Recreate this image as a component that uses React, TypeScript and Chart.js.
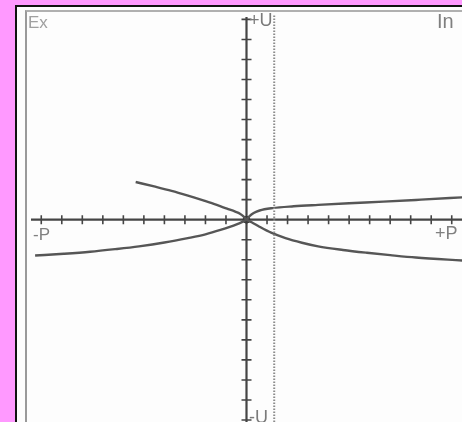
import React, { useEffect, useRef } from "react";
import { Chart, registerables } from "chart.js";

Chart.register(...registerables);

// Curve samples (P on x, U on y; one tick = 1 unit)
const upperLeftX = [-5.4, -4.5, -3.65, -2.85, -2.07, -1.45, -0.95, -0.55, -0.32, -0.12, 0];
const upperLeftY = [1.88, 1.66, 1.44, 1.2, 0.95, 0.74, 0.55, 0.4, 0.3, 0.14, 0];
const lowerLeftX = [-10.3, -8.9, -7.62, -6.4, -5.24, -4.0, -2.86, -2.0, -1.27, -0.48, -0.15, 0];
const lowerLeftY = [-1.79, -1.7, -1.6, -1.47, -1.33, -1.14, -0.92, -0.73, -0.51, -0.23, -0.08, 0];
const upperRightX = [0, 0.15, 0.35, 0.64, 1.27, 2.3, 3.49, 5.0, 6.67, 8.5, 10.6];
const upperRightY = [0, 0.18, 0.33, 0.46, 0.58, 0.67, 0.74, 0.82, 0.9, 1.0, 1.12];
const lowerRightX = [0, 0.25, 0.63, 1.2, 1.9, 2.7, 3.49, 4.7, 5.87, 7.0, 8.25, 10.6];
const lowerRightY = [0, -0.13, -0.35, -0.65, -0.92, -1.15, -1.33, -1.51, -1.65, -1.77, -1.89, -2.04];
const markerP = [1.35, 1.35];
const markerU = [-11, 11];
const originP = [0];
const originU = [0];

const xTickValues = [-10, -9, -8, -7, -6, -5, -4, -3, -2, -1, 1, 2, 3, 4, 5, 6, 7, 8, 9, 10];
const yTickValues = [-10, -9, -8, -7, -6, -5, -4, -3, -2, -1, 1, 2, 3, 4, 5, 6, 7, 8, 9, 10];

const labelEx = "Ex";
const labelIn = "In";
const labelPlusU = "+U";
const labelMinusU = "-U";
const labelPlusP = "+P";
const labelMinusP = "-P";

const pts = (xs: number[], ys: number[]) => xs.map((x, i) => ({ x, y: ys[i] }));

const crossAxes = {
  id: "crossAxes",
  beforeDatasetsDraw(chart: any) {
    const { ctx, chartArea } = chart;
    const xs = chart.scales.x;
    const ys = chart.scales.y;
    const x0 = xs.getPixelForValue(0);
    const y0 = ys.getPixelForValue(0);
    ctx.save();
    ctx.strokeStyle = "#454545";
    ctx.lineWidth = 2.2;
    ctx.beginPath();
    ctx.moveTo(chartArea.left, y0);
    ctx.lineTo(chartArea.right, y0);
    ctx.moveTo(x0, ys.getPixelForValue(10.12));
    ctx.lineTo(x0, chartArea.bottom);
    ctx.stroke();
    ctx.lineWidth = 1.6;
    ctx.beginPath();
    xTickValues.forEach((v) => {
      const p = xs.getPixelForValue(v);
      ctx.moveTo(p, y0 - 4.5);
      ctx.lineTo(p, y0 + 4.5);
    });
    yTickValues.forEach((v) => {
      const p = ys.getPixelForValue(v);
      ctx.moveTo(x0 - 5, p);
      ctx.lineTo(x0 + 5, p);
    });
    ctx.stroke();
    ctx.restore();
  },
};

export default function App() {
  const ref = useRef<HTMLCanvasElement | null>(null);

  useEffect(() => {
    if (!ref.current) return;
    const curve = (xs: number[], ys: number[]) => ({
      data: pts(xs, ys),
      borderColor: "#565656",
      borderWidth: 2.4,
      pointRadius: 0,
      showLine: true,
      fill: false,
      cubicInterpolationMode: "monotone" as const,
    });
    const chart = new Chart(ref.current, {
      type: "scatter",
      data: {
        datasets: [
          {
            data: pts(markerP, markerU),
            borderColor: "#8c8c8c",
            borderWidth: 2,
            borderDash: [1.5, 1.5],
            pointRadius: 0,
            showLine: true,
          },
          curve(upperLeftX, upperLeftY),
          curve(lowerLeftX, lowerLeftY),
          curve(upperRightX, upperRightY),
          curve(lowerRightX, lowerRightY),
          {
            data: pts(originP, originU),
            backgroundColor: "#3a3a3a",
            borderColor: "#3a3a3a",
            pointRadius: 3.5,
            showLine: false,
          },
        ],
      },
      options: {
        responsive: false,
        animation: false,
        layout: { padding: 0 },
        plugins: { legend: { display: false }, tooltip: { enabled: false } },
        scales: {
          x: { type: "linear", min: -10.5, max: 10.5, display: false },
          y: { type: "linear", min: -10.5, max: 10.22, display: false },
        },
      },
      plugins: [crossAxes],
    });
    return () => chart.destroy();
  }, []);

  const lab = (text: string, left: number, top: number, size: number, color: string) => (
    <span
      style={{
        position: "absolute",
        left,
        top,
        fontFamily: "'Liberation Sans', Arial, sans-serif",
        fontSize: size,
        lineHeight: 1,
        color,
        whiteSpace: "nowrap",
      }}
    >
      {text}
    </span>
  );

  return (
    <div
      style={{
        position: "fixed",
        left: 0,
        top: 0,
        width: 462,
        height: 422,
        overflow: "hidden",
        background: "#ff99ff",
      }}
    >
      <div
        style={{
          position: "absolute",
          left: 15,
          top: 5,
          width: 520,
          height: 520,
          border: "2px solid #111",
          background: "#fdfdfd",
        }}
      />
      <div
        style={{
          position: "absolute",
          left: 25,
          top: 10,
          width: 520,
          height: 520,
          borderLeft: "2px solid #9a9a9a",
          borderTop: "2px solid #b0b0b0",
        }}
      />
      <canvas
        ref={ref}
        width={441}
        height={425}
        style={{ position: "absolute", left: 26, top: 10, width: 441, height: 425 }}
      />
      {lab(labelEx, 28, 14, 17, "#a0a0a0")}
      {lab(labelIn, 437, 11, 20, "#7f7f7f")}
      {lab(labelPlusU, 249, 11, 18, "#7a7a7a")}
      {lab(labelMinusP, 33, 226, 17, "#808080")}
      {lab(labelPlusP, 435, 224, 18, "#808080")}
      {lab(labelMinusU, 249, 408, 18, "#7a7a7a")}
    </div>
  );
}
